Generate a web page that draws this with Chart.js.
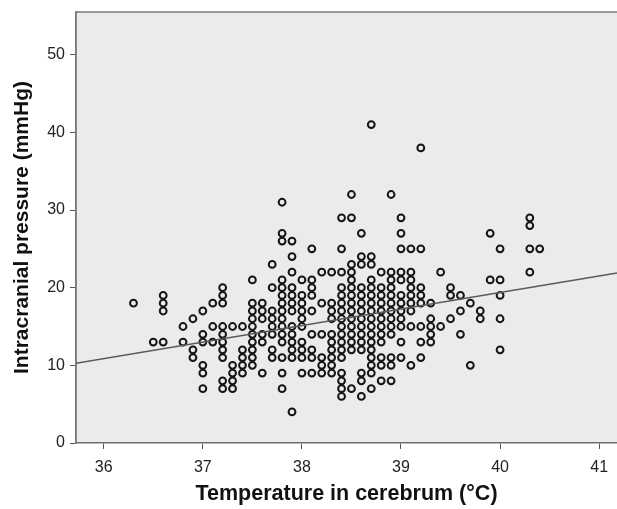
<!DOCTYPE html>
<html>
<head>
<meta charset="utf-8">
<script src="https://cdn.jsdelivr.net/npm/chart.js@4/dist/chart.umd.min.js"></script>
<style>
    html, body { margin: 0; padding: 0; background: #ffffff; overflow: hidden; }
    #wrap { width: 617px; height: 509px; }
</style>
</head>
<body>
<div id="wrap"><canvas id="icpChart"></canvas></div>
<script>
// Temperature columns (°C) and the ICP values (mmHg) plotted in each column
const tempCols = [
    36.3, 36.5, 36.6, 36.8, 36.9, 37.0, 37.1, 37.2, 37.3, 37.4,
    37.5, 37.6, 37.7, 37.8, 37.9, 38.0, 38.1, 38.2, 38.3, 38.4,
    38.5, 38.6, 38.7, 38.8, 38.9, 39.0, 39.1, 39.2, 39.3, 39.4,
    39.5, 39.6, 39.7, 39.8, 39.9, 40.0, 40.3, 40.4
];
const icpCols = [
    [18],
    [13],
    [19, 18, 17, 13],
    [15, 13],
    [16, 12, 11],
    [17, 14, 13, 10, 9, 7],
    [18, 15, 13],
    [20, 19, 18, 15, 14, 13, 12, 11, 8, 7],
    [15, 10, 9, 8, 7],
    [15, 12, 11, 10, 9],
    [21, 18, 17, 16, 15, 14, 13, 12, 11, 10],
    [18, 17, 16, 14, 13, 9],
    [23, 20, 17, 16, 15, 14, 12, 11],
    [31, 27, 26, 21, 20, 19, 18, 17, 16, 15, 14, 13, 11, 9, 7],
    [26, 24, 22, 20, 19, 18, 17, 15, 14, 13, 12, 11, 4],
    [21, 19, 18, 17, 16, 15, 13, 12, 11, 9],
    [25, 21, 20, 19, 17, 14, 12, 11, 9],
    [22, 18, 14, 11, 10, 9],
    [22, 18, 17, 16, 14, 13, 12, 11, 10, 9],
    [29, 25, 22, 20, 19, 18, 17, 16, 15, 14, 13, 12, 11, 9, 8, 7, 6],
    [32, 29, 23, 22, 21, 20, 19, 18, 17, 16, 15, 14, 13, 12, 7],
    [27, 24, 23, 20, 19, 18, 17, 16, 15, 14, 13, 12, 9, 8, 6],
    [41, 24, 23, 21, 20, 19, 18, 17, 16, 15, 14, 13, 12, 11, 10, 9, 7],
    [22, 20, 19, 18, 17, 16, 15, 14, 13, 11, 10, 8],
    [32, 22, 21, 20, 19, 18, 17, 16, 15, 14, 11, 10, 8],
    [29, 27, 25, 22, 21, 19, 18, 17, 16, 15, 13, 11],
    [25, 22, 21, 20, 19, 18, 17, 15, 10],
    [38, 25, 20, 19, 18, 15, 13, 11],
    [18, 16, 15, 14, 13],
    [22, 15],
    [20, 19, 16],
    [19, 17, 14],
    [18, 10],
    [17, 16],
    [27, 21],
    [25, 21, 19, 16, 12],
    [29, 28, 25, 22],
    [25]
];

// Fit line (read at the plot edges)
const fitX = [35.72, 41.18];
const fitY = [10.26, 21.9];

const xTicks = [36, 37, 38, 39, 40, 41];
const yTicks = [0, 10, 20, 30, 40, 50];

const scatterData = [];
tempCols.forEach((t, i) => {
    icpCols[i].forEach(v => scatterData.push({ x: t, y: v }));
});

// Grey plot background and frame
const plotFrame = {
    id: 'plotFrame',
    beforeDraw(chart) {
        const { ctx, chartArea: a } = chart;
        ctx.save();
        ctx.fillStyle = '#ebebeb';
        ctx.fillRect(a.left, a.top, a.right - a.left, a.bottom - a.top);
        ctx.strokeStyle = '#7a7a7a';
        ctx.lineWidth = 1.5;
        ctx.beginPath();
        ctx.moveTo(a.left, a.bottom);
        ctx.lineTo(a.left, a.top);
        ctx.lineTo(a.right, a.top);
        ctx.stroke();
        ctx.restore();
    }
};

const FONT = 'Liberation Sans, Arial, sans-serif';

const ctx = document.getElementById('icpChart').getContext('2d');
new Chart(ctx, {
    type: 'scatter',
    data: {
        datasets: [{
            data: scatterData,
            pointStyle: 'circle',
            pointRadius: 3.4,
            pointBorderWidth: 2,
            borderColor: '#151515',
            backgroundColor: 'rgba(0,0,0,0)',
            order: 2
        }, {
            type: 'line',
            data: fitX.map((x, i) => ({ x: x, y: fitY[i] })),
            borderColor: '#5a5a5a',
            borderWidth: 1.5,
            pointRadius: 0,
            fill: false,
            order: 1
        }]
    },
    options: {
        responsive: true,
        maintainAspectRatio: false,
        animation: false,
        layout: { autoPadding: false, padding: { top: 12, right: 0, left: 0, bottom: 0 } },
        plugins: {
            legend: { display: false },
            tooltip: { enabled: false }
        },
        scales: {
            x: {
                type: 'linear',
                min: 35.72,
                max: 41.18,
                afterBuildTicks: s => { s.ticks = xTicks.map(v => ({ value: v })); },
                afterFit: s => { s.height = 66; s.paddingLeft = 0; s.paddingRight = 0; },
                grid: { drawOnChartArea: false, drawTicks: true, tickLength: 6, color: '#555' },
                border: { display: true, color: '#6e6e6e', width: 1.5 },
                ticks: {
                    color: '#222',
                    padding: 9,
                    font: { family: FONT, size: 16 },
                    callback: v => v
                },
                title: {
                    display: true,
                    text: 'Temperature in cerebrum (°C)',
                    color: '#111',
                    font: { family: FONT, size: 21.5, weight: 'bold' },
                    padding: { top: 0, bottom: 2 }
                }
            },
            y: {
                type: 'linear',
                min: 0,
                max: 55.5,
                afterBuildTicks: s => { s.ticks = yTicks.map(v => ({ value: v })); },
                afterFit: s => { s.width = 76; s.paddingTop = 0; s.paddingBottom = 0; },
                grid: { drawOnChartArea: false, drawTicks: true, tickLength: 6, color: '#555' },
                border: { display: true, color: '#7a7a7a', width: 1.5 },
                ticks: {
                    color: '#222',
                    padding: 5,
                    font: { family: FONT, size: 16 }
                },
                title: {
                    display: true,
                    text: 'Intracranial pressure (mmHg)',
                    color: '#111',
                    font: { family: FONT, size: 21, weight: 'bold' },
                    padding: { top: 10, bottom: 0 }
                }
            }
        }
    },
    plugins: [plotFrame]
});
</script>
</body>
</html>
